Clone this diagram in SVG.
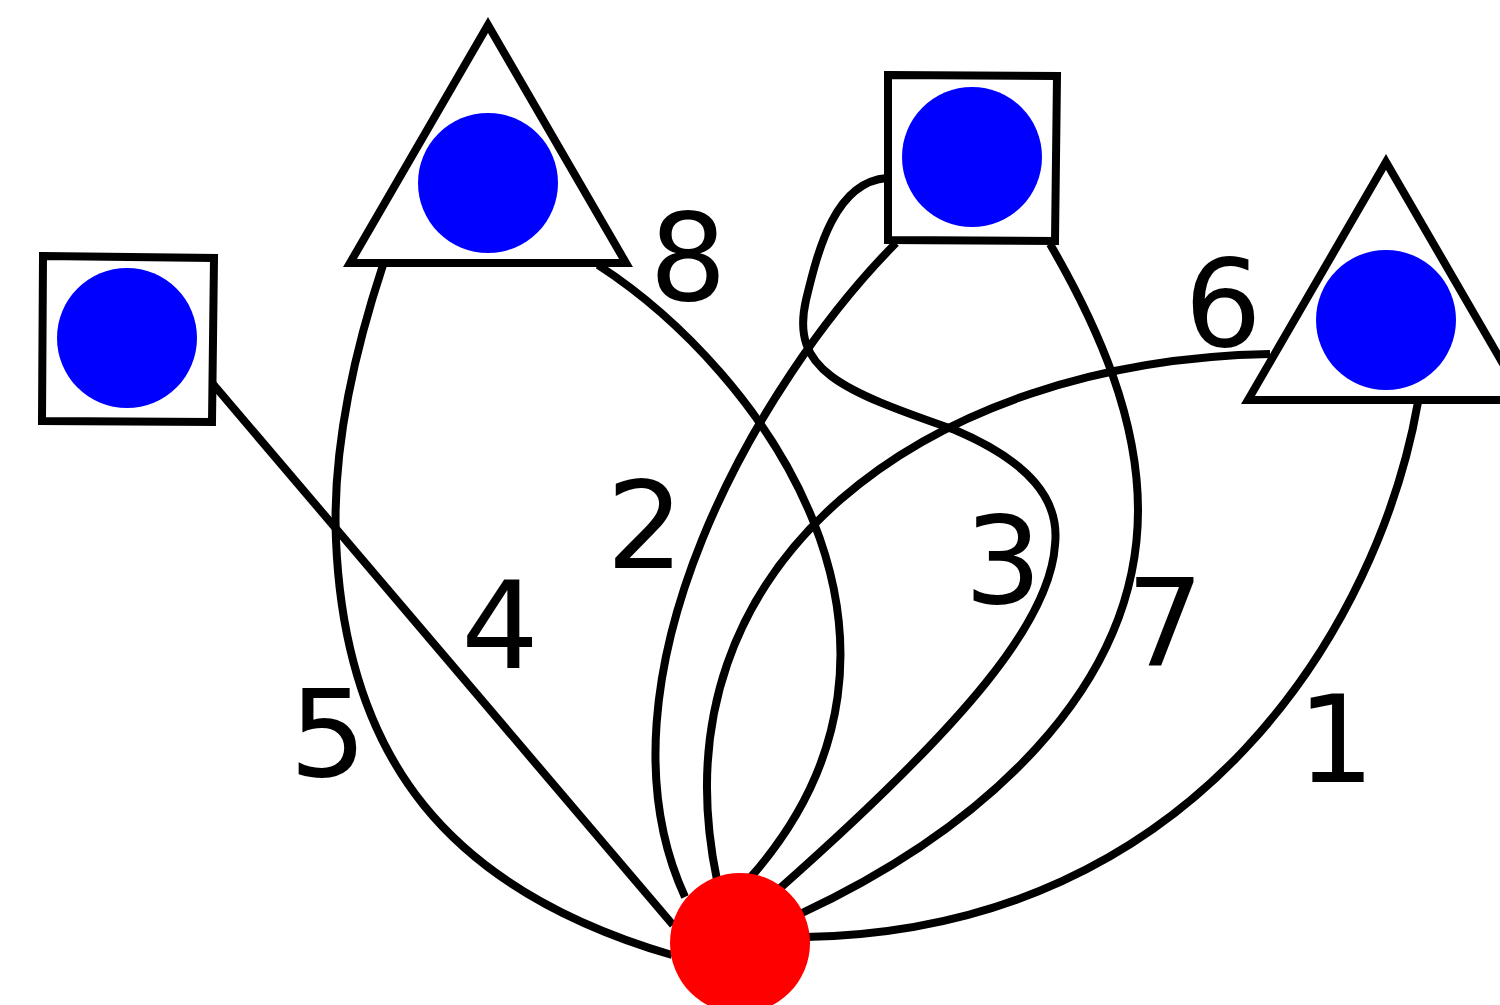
<svg xmlns="http://www.w3.org/2000/svg" width="1500" height="1005" viewBox="0 0 1500 1005">
<style>
.e{fill:none;stroke:#000;stroke-width:8}
.s{fill:#fff;stroke:#000;stroke-width:8}
.b{fill:#0000ff}
.lbl{font-family:"DejaVu Sans",sans-serif;font-size:122px;fill:#000;text-anchor:middle}
</style>
<rect width="1500" height="1005" fill="#fff"/>
<g id="edges">
<path class="e" d="M1418,402 C1380,620 1200,930 805,937"/>
<path class="e" d="M896,243 C760,380 585,680 685,897"/>
<path class="e" d="M887,178 C835,182 818,250 806,300 C790,370 840,390 955,430 C1030,462 1060,500 1055,545 C1050,620 970,720 778,890"/>
<path class="e" d="M213,384 L673,925"/>
<path class="e" d="M383,265 C345,380 333,470 336,540 C345,760 450,890 672,955"/>
<path class="e" d="M1270,354 C930,360 650,560 717,880"/>
<path class="e" d="M1050,244 C1100,330 1138,420 1138,510 C1138,690 980,830 800,914"/>
<path class="e" d="M598,265 C760,370 960,640 750,878"/>
</g>
<g id="labels">
<text class="lbl" x="1336" y="782">1</text>
<text class="lbl" x="645" y="568">2</text>
<text class="lbl" x="1003" y="603">3</text>
<text class="lbl" x="500" y="668">4</text>
<text class="lbl" x="328" y="776">5</text>
<text class="lbl" x="1223" y="346">6</text>
<text class="lbl" x="1165" y="665">7</text>
<text class="lbl" x="688" y="300">8</text>
</g>
<g id="node-center"><circle cx="740" cy="943" r="70" fill="#ff0000"/></g>
<g id="node-square-left"><polygon class="s" points="43,256 214,258 212,422 42,421"/><circle class="b" cx="127" cy="338" r="70"/></g>
<g id="node-triangle-left"><polygon class="s" points="488,25 626,263 350,263"/><circle class="b" cx="488" cy="183" r="70"/></g>
<g id="node-square-top"><polygon class="s" points="888,75 1057,76 1055,241 888,240"/><circle class="b" cx="972" cy="157" r="70"/></g>
<g id="node-triangle-right"><polygon class="s" points="1386,162 1524,400 1248,400"/><circle class="b" cx="1386" cy="320" r="70"/></g>
</svg>
